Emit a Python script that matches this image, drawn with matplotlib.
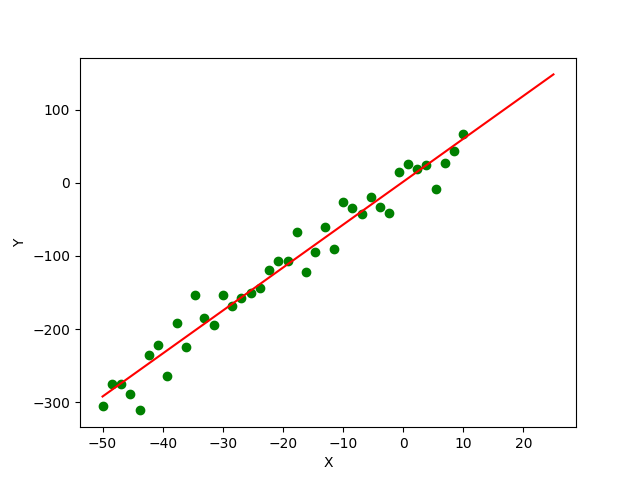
import numpy as np
import matplotlib
matplotlib.use("Agg")
import matplotlib.pyplot as plt

x_vals = np.linspace(-50, 10, 40)
y_vals = [-305, -275, -275, -289, -311, -235, -221, -264, -192, -224,
          -154, -185, -195, -154, -168, -157, -150, -144, -119, -107,
          -107, -67, -122, -95, -61, -90, -26, -35, -43, -19,
          -33, -42, 15, 26, 19, 24, -9, 27, 43, 67]
line_x = [-50, 25]
line_y = [-292, 148]

fig, ax = plt.subplots(figsize=(6.4, 4.8), dpi=100)
ax.scatter(x_vals, y_vals, color='green')
ax.plot(line_x, line_y, color='red')
ax.set_xlabel('X')
ax.set_ylabel('Y')
fig.savefig('out.png')
